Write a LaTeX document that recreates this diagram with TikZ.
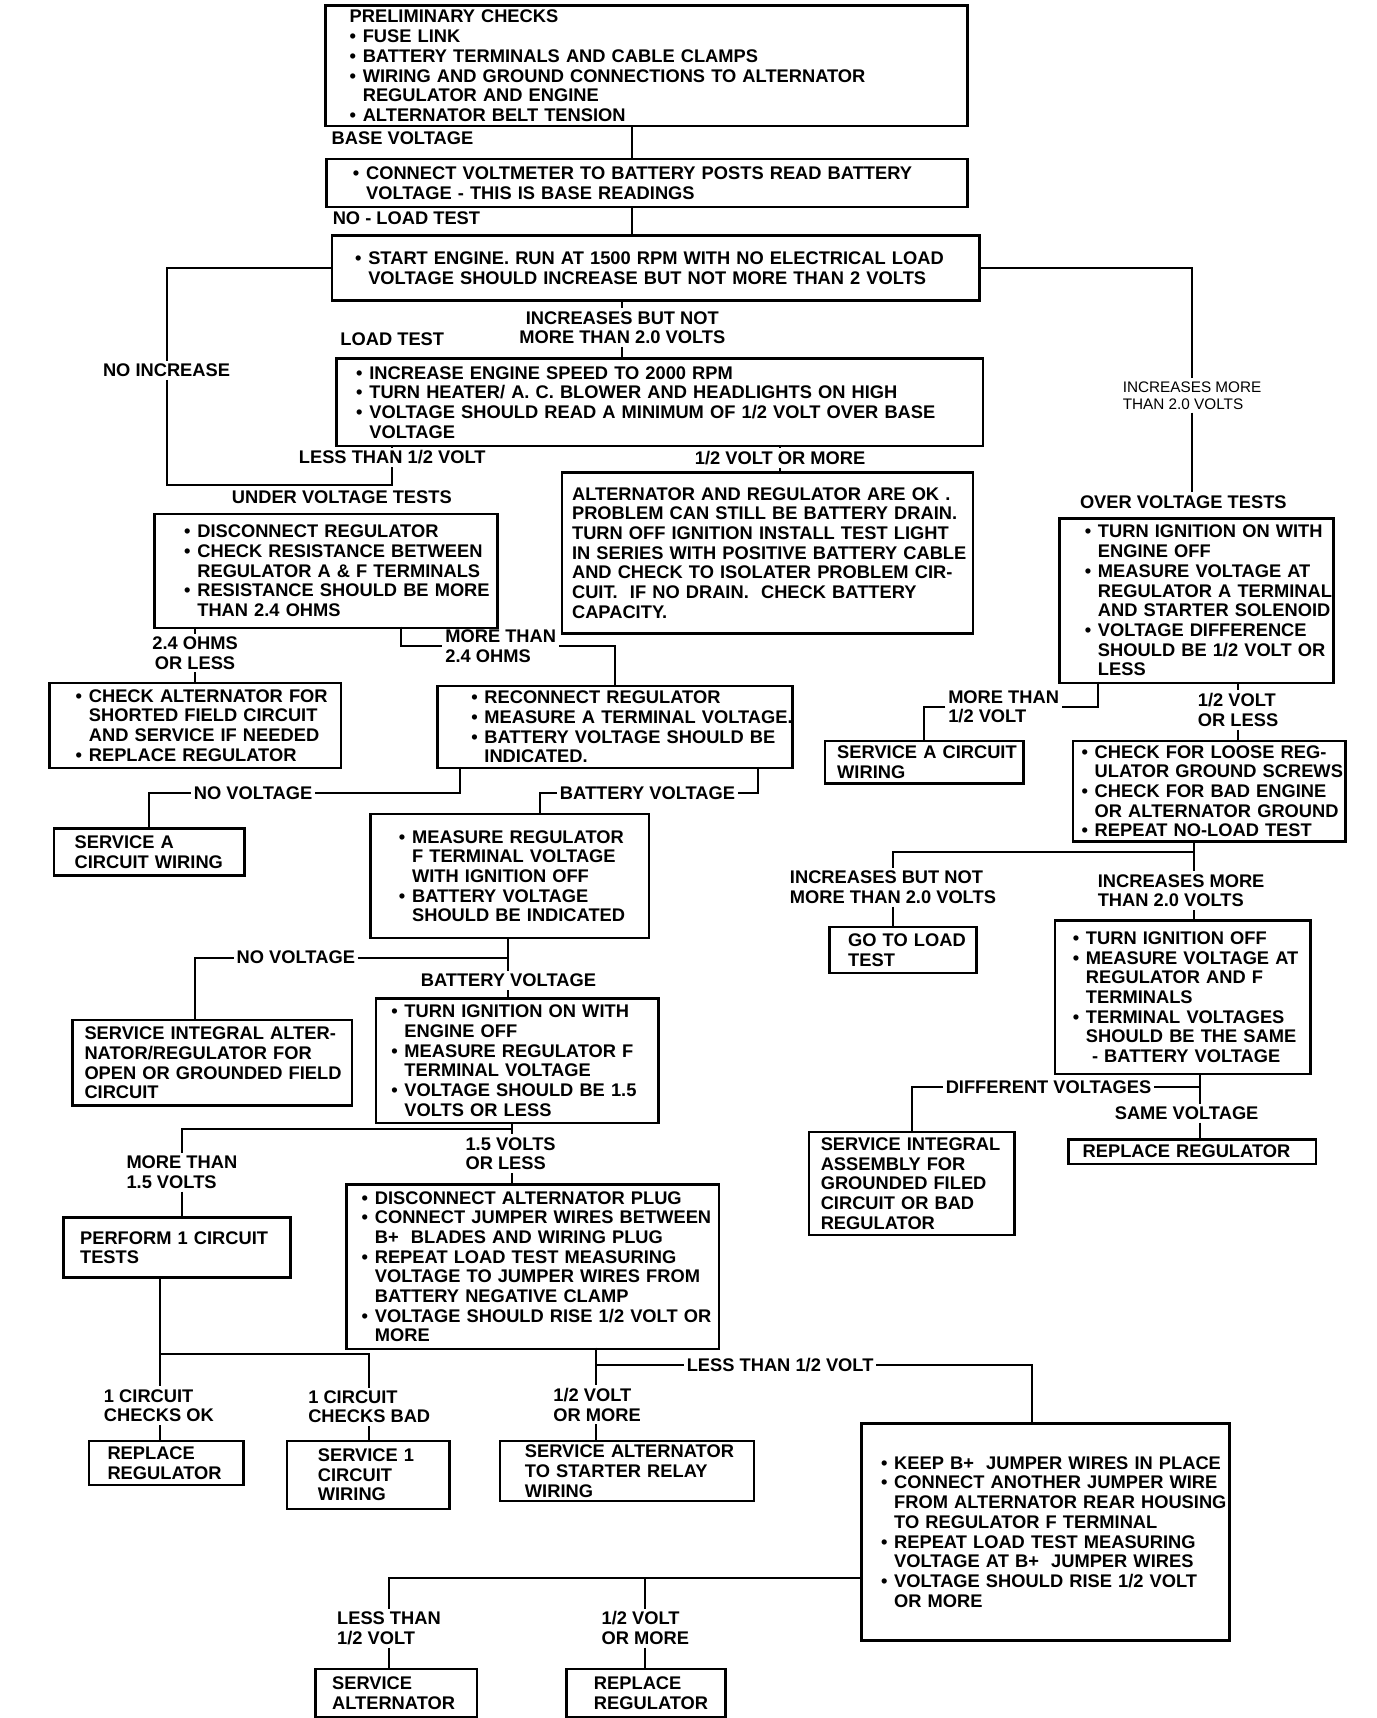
\documentclass[tikz,border=0pt]{standalone}
\usepackage{fontspec}
\setmainfont{Liberation Sans}
\usetikzlibrary{calc}

\newlength{\pxu}\setlength{\pxu}{0.0219cm}
\newlength{\bw}\setlength{\bw}{12\pxu}
\newcommand{\chartfont}{\fontsize{10.4}{11.2}\selectfont\bfseries}
\newcommand{\itm}[1]{\makebox[\bw][l]{\textbullet}\mbox{#1}}
\newcommand{\cnt}[1]{\hspace*{\bw}\mbox{#1}}
\newcommand{\row}[1]{\mbox{#1}}

\begin{document}
\begin{tikzpicture}[
    x=0.0219cm, y=-0.0219cm,
    box/.style n args={3}{draw, line width=1.4pt, anchor=north west, align=left,
                  font=\chartfont, minimum width=#1*\pxu, minimum height=#2*\pxu,
                  inner xsep=#3*\pxu, inner ysep=0pt, text width=(#1-2*#3)*\pxu},
    lbl/.style={font=\chartfont, inner sep=1.5pt, align=center},
    lbll/.style={lbl, align=left},
    lite/.style={font=\fontsize{8.7}{10}\selectfont, inner sep=1.5pt, align=left},
    ln/.style={line width=1.1pt}
]
\useasboundingbox (0,0) rectangle (1256,1568);

% main column
\node[box={586}{110}{22}] (prelim) at (296,4) {\row{PRELIMINARY CHECKS}\\
  \itm{FUSE LINK}\\ \itm{BATTERY TERMINALS AND CABLE CLAMPS}\\
  \itm{WIRING AND GROUND CONNECTIONS TO ALTERNATOR}\\ \cnt{REGULATOR AND ENGINE}\\
  \itm{ALTERNATOR BELT TENSION}};
\node[lbl, anchor=west] (basel) at (300,126) {BASE VOLTAGE};
\node[box={585}{44}{24}] (base) at (297,144) {\itm{CONNECT VOLTMETER TO BATTERY POSTS READ BATTERY}\\
  \cnt{VOLTAGE - THIS IS BASE READINGS}};
\node[lbl, anchor=west] (nolt) at (301,199) {NO - LOAD TEST};
\node[box={591}{59}{21}] (noload) at (302,214) {\itm{START ENGINE. RUN AT 1500 RPM WITH NO ELECTRICAL LOAD}\\
  \cnt{VOLTAGE SHOULD INCREASE BUT NOT MORE THAN 2 VOLTS}};
\node[lbl] (incbut) at (568,299) {INCREASES BUT NOT\\MORE THAN 2.0 VOLTS};
\node[lbl] (noinc) at (152,338) {NO INCREASE};
\node[lite] (incmore) at (1088,361) {INCREASES MORE\\THAN 2.0 VOLTS};
\node[lbl, anchor=west] (ldt) at (308,310) {LOAD TEST};
\node[box={590}{80}{18}] (loadtest) at (306,326) {\itm{INCREASE ENGINE SPEED TO 2000 RPM}\\
  \itm{TURN HEATER/ A. C. BLOWER AND HEADLIGHTS ON HIGH}\\
  \itm{VOLTAGE SHOULD READ A MINIMUM OF 1/2 VOLT OVER BASE}\\ \cnt{VOLTAGE}};
\node[lbl] (lt12) at (358,417) {LESS THAN 1/2 VOLT};
\node[lbl] (hv) at (712,418) {1/2 VOLT OR MORE};
\node[box={375}{147}{9}] (altok) at (512,430) {\row{ALTERNATOR AND REGULATOR ARE OK .}\\
  \row{PROBLEM CAN STILL BE BATTERY DRAIN.}\\ \row{TURN OFF IGNITION INSTALL TEST LIGHT}\\
  \row{IN SERIES WITH POSITIVE BATTERY CABLE}\\ \row{AND CHECK TO ISOLATER PROBLEM CIR-}\\
  \row{CUIT.\ \ IF NO DRAIN.\ \ CHECK BATTERY}\\ \row{CAPACITY.}};

% under voltage tests
\node[lbl] (uvt) at (312,454) {UNDER VOLTAGE TESTS};
\node[box={313}{104}{27}] (uv) at (140,468) {\itm{DISCONNECT REGULATOR}\\
  \itm{CHECK RESISTANCE BETWEEN}\\ \cnt{REGULATOR A \& F TERMINALS}\\
  \itm{RESISTANCE SHOULD BE MORE}\\ \cnt{THAN 2.4 OHMS}};
\node[lbl] (o24) at (178,596) {2.4 OHMS\\OR LESS};
\node[lbll] (mt24) at (457,590) {MORE THAN\\ 2.4 OHMS};
\node[box={266}{78}{24}] (chkalt) at (44,622) {\itm{CHECK ALTERNATOR FOR}\\
  \cnt{SHORTED FIELD CIRCUIT}\\ \cnt{AND SERVICE IF NEEDED}\\ \itm{REPLACE REGULATOR}};
\node[box={324}{75}{31}] (recon) at (398,625) {\itm{RECONNECT REGULATOR}\\
  \itm{MEASURE A TERMINAL VOLTAGE.}\\ \itm{BATTERY VOLTAGE SHOULD BE}\\ \cnt{INDICATED.}};
\node[lbl] (nov1) at (231,724) {NO VOLTAGE};
\node[lbl] (batv1) at (591,724) {BATTERY VOLTAGE};
\node[box={174}{43}{19}] (svA1) at (48,755) {\row{SERVICE A}\\ \row{CIRCUIT WIRING}};
\node[box={254}{113}{26}] (meas) at (337,742) {\itm{MEASURE REGULATOR}\\
  \cnt{F TERMINAL VOLTAGE}\\ \cnt{WITH IGNITION OFF}\\ \itm{BATTERY VOLTAGE}\\
  \cnt{SHOULD BE INDICATED}};
\node[lbl] (nov2) at (270,874) {NO VOLTAGE};
\node[lbl] (batv2) at (464,895) {BATTERY VOLTAGE};
\node[box={255}{78}{11}] (sint) at (65,930) {\row{SERVICE INTEGRAL ALTER-}\\
  \row{NATOR/REGULATOR FOR}\\ \row{OPEN OR GROUNDED FIELD}\\ \row{CIRCUIT}};
\node[box={258}{114}{14}] (turnign) at (342,910) {\itm{TURN IGNITION ON WITH}\\
  \cnt{ENGINE OFF}\\ \itm{MEASURE REGULATOR F}\\ \cnt{TERMINAL VOLTAGE}\\
  \itm{VOLTAGE SHOULD BE 1.5}\\ \cnt{VOLTS OR LESS}};
\node[lbll] (mt15) at (166,1070) {MORE THAN\\1.5 VOLTS};
\node[lbll] (v15) at (466,1053) {1.5 VOLTS\\OR LESS};
\node[box={207}{55}{15}] (perform) at (57,1110) {\row{PERFORM 1 CIRCUIT}\\ \row{TESTS}};
\node[box={340}{150}{14}] (disc) at (315,1080) {\itm{DISCONNECT ALTERNATOR PLUG}\\
  \itm{CONNECT JUMPER WIRES BETWEEN}\\ \cnt{B+\ \ BLADES AND WIRING PLUG}\\
  \itm{REPEAT LOAD TEST MEASURING}\\ \cnt{VOLTAGE TO JUMPER WIRES FROM}\\
  \cnt{BATTERY NEGATIVE CLAMP}\\ \itm{VOLTAGE SHOULD RISE 1/2 VOLT OR}\\ \cnt{MORE}};
\node[lbll] (ok1) at (145,1283) {1 CIRCUIT\\CHECKS OK};
\node[lbll] (bad1) at (337,1284) {1 CIRCUIT\\CHECKS BAD};
\node[lbll] (hv2) at (545,1282) {1/2 VOLT\\OR MORE};
\node[lbl] (lt2) at (712,1246) {LESS THAN 1/2 VOLT};
\node[box={141}{40}{17}] (rep1) at (80,1314) {\row{REPLACE}\\ \row{REGULATOR}};
\node[box={148}{62}{28}] (svc1) at (261,1314) {\row{SERVICE 1}\\ \row{CIRCUIT}\\ \row{WIRING}};
\node[box={232}{55}{23}] (svalt) at (455,1314) {\row{SERVICE ALTERNATOR}\\
  \row{TO STARTER RELAY}\\ \row{WIRING}};
\node[box={336}{198}{18}] (keep) at (785,1298) {\itm{KEEP B+\ \ JUMPER WIRES IN PLACE}\\
  \itm{CONNECT ANOTHER JUMPER WIRE}\\ \cnt{FROM ALTERNATOR REAR HOUSING}\\
  \cnt{TO REGULATOR F TERMINAL}\\ \itm{REPEAT LOAD TEST MEASURING}\\
  \cnt{VOLTAGE AT B+\ \ JUMPER WIRES}\\ \itm{VOLTAGE SHOULD RISE 1/2 VOLT}\\ \cnt{OR MORE}};
\node[lbll] (lt3) at (355,1486) {LESS THAN\\1/2 VOLT};
\node[lbll] (hv3) at (589,1486) {1/2 VOLT\\OR MORE};
\node[box={147}{44}{15}] (svalt2) at (287,1522) {\row{SERVICE}\\ \row{ALTERNATOR}};
\node[box={145}{44}{25}] (rep2) at (516,1522) {\row{REPLACE}\\ \row{REGULATOR}};

% over voltage tests
\node[lbl] (ovt) at (1080,458) {OVER VOLTAGE TESTS};
\node[box={250}{150}{23}] (ov) at (966,472) {\itm{TURN IGNITION ON WITH}\\
  \cnt{ENGINE OFF}\\ \itm{MEASURE VOLTAGE AT}\\ \cnt{REGULATOR A TERMINAL}\\
  \cnt{AND STARTER SOLENOID}\\ \itm{VOLTAGE DIFFERENCE}\\ \cnt{SHOULD BE 1/2 VOLT OR}\\
  \cnt{LESS}};
\node[lbll] (mt12) at (916,645) {MORE THAN\\1/2 VOLT};
\node[lbll] (lv) at (1130,648) {1/2 VOLT\\OR LESS};
\node[box={181}{39}{11}] (svA2) at (752,675) {\row{SERVICE A CIRCUIT}\\ \row{WIRING}};
\node[box={249}{92}{8}] (chk) at (978,675) {\itm{CHECK FOR LOOSE REG-}\\
  \cnt{ULATOR GROUND SCREWS}\\ \itm{CHECK FOR BAD ENGINE}\\ \cnt{OR ALTERNATOR GROUND}\\
  \itm{REPEAT NO-LOAD TEST}};
\node[lbll] (ibn) at (815,810) {INCREASES BUT NOT\\MORE THAN 2.0 VOLTS};
\node[lbll] (imr) at (1078,813) {INCREASES MORE\\THAN 2.0 VOLTS};
\node[box={134}{42}{17}] (goload) at (756,845) {\row{GO TO LOAD}\\ \row{TEST}};
\node[box={233}{140}{16}] (toff) at (962,839) {\itm{TURN IGNITION OFF}\\
  \itm{MEASURE VOLTAGE AT}\\ \cnt{REGULATOR AND F}\\ \cnt{TERMINALS}\\
  \itm{TERMINAL VOLTAGES}\\ \cnt{SHOULD BE THE SAME}\\ \cnt{\ - BATTERY VOLTAGE}};
\node[lbl] (dv) at (957,992) {DIFFERENT VOLTAGES};
\node[lbl] (sv) at (1083,1016) {SAME VOLTAGE};
\node[box={188}{94}{11}] (sasm) at (737,1032) {\row{SERVICE INTEGRAL}\\ \row{ASSEMBLY FOR}\\
  \row{GROUNDED FILED}\\ \row{CIRCUIT OR BAD}\\ \row{REGULATOR}};
\node[box={226}{22}{13}] (repl3) at (974,1039) {\row{REPLACE REGULATOR}};

% trunk and junction points
\coordinate (tk) at (577,0);
\coordinate (uvr) at (366,572);
\coordinate (rcl) at (420,700);
\coordinate (rcr) at (692,700);
\coordinate (msn) at (493,742);
\coordinate (sin) at (178,930);
\coordinate (j15) at (467,1030);
\coordinate (pfb) at (146,1165);
\coordinate (j1c) at (146,1236);
\coordinate (dcb) at (544,1230);
\coordinate (jlt) at (544,1246);
\coordinate (kpn) at (942,1298);
\coordinate (kpw) at (785,1440);
\coordinate (ovl) at (1002,622);
\coordinate (j2) at (1090,778);
\coordinate (j3) at (1095,992);

\draw[ln] (prelim.south -| tk) -- (base.north -| tk);
\draw[ln] (base.south -| tk) -- (noload.north -| tk);

% no-load test results
\draw[ln] (noload.south -| incbut) -- (incbut.north);
\draw[ln] (incbut.south) -- (loadtest.north -| incbut);
\draw[ln] (noload.west) -| (noinc.north);
\draw[ln] (noinc.south) |- ($(lt12.south)+(0,17)$) -- (lt12.south);
\draw[ln] (loadtest.south -| lt12) -- (lt12.north);
\draw[ln] (noload.east) -| (incmore.north);
\draw[ln] (incmore.south) -- (incmore.south |- ovt.north);
\draw[ln] (loadtest.south -| hv) -- (hv.north);
\draw[ln] (hv.south) -- (altok.north -| hv);

% under voltage branch
\draw[ln] (uv.south -| o24) -- (o24.north);
\draw[ln] (o24.south) -- (chkalt.north -| o24);
\draw[ln] (uvr) |- (mt24.west);
\draw[ln] (mt24.east) -| (recon.north);
\draw[ln] (rcl) |- (nov1.east);
\draw[ln] (nov1.west) -| (svA1.north);
\draw[ln] (rcr) |- (batv1.east);
\draw[ln] (batv1.west) -| (msn);
\draw[ln] (meas.south -| batv2) -- (batv2.north);
\draw[ln] (nov2.east) -- (nov2.east -| batv2);
\draw[ln] (nov2.west) -| (sin);
\draw[ln] (batv2.south) -- (turnign.north -| batv2);
\draw[ln] (turnign.south -| j15) -- (j15) -- (v15.north -| j15);
\draw[ln] (j15) -| (mt15.north);
\draw[ln] (mt15.south) -- (perform.north -| mt15);
\draw[ln] (v15.south -| j15) -- (disc.north -| j15);
\draw[ln] (pfb) -- (pfb |- ok1.north);
\draw[ln] (j1c) -| (bad1.north);
\draw[ln] (ok1.south -| pfb) -- (rep1.north -| pfb);
\draw[ln] (bad1.south) -- (svc1.north -| bad1);
\draw[ln] (dcb) -- (dcb |- hv2.north);
\draw[ln] (jlt) -- (lt2.west);
\draw[ln] (lt2.east) -| (kpn);
\draw[ln] (hv2.south -| dcb) -- (svalt.north -| dcb);
\draw[ln] (kpw) -| (lt3.north);
\draw[ln] (kpw -| hv3) -- (hv3.north);
\draw[ln] (lt3.south) -- (svalt2.north -| lt3);
\draw[ln] (hv3.south) -- (rep2.north -| hv3);

% over voltage branch
\draw[ln] (ovl) |- (mt12.east);
\draw[ln] (mt12.west) -| (svA2.north);
\draw[ln] (ov.south -| lv) -- (lv.north);
\draw[ln] (lv.south) -- (chk.north -| lv);
\draw[ln] (chk.south -| j2) -- (j2) -- (imr.north -| j2);
\draw[ln] (j2) -| (ibn.north);
\draw[ln] (ibn.south) -- (goload.north -| ibn);
\draw[ln] (imr.south -| j2) -- (toff.north -| j2);
\draw[ln] (toff.south -| j3) -- (j3) -- (sv.north -| j3);
\draw[ln] (j3) -- (dv.east);
\draw[ln] (dv.west) -| (sasm.north);
\draw[ln] (sv.south -| j3) -- (repl3.north -| j3);

\end{tikzpicture}
\end{document}
